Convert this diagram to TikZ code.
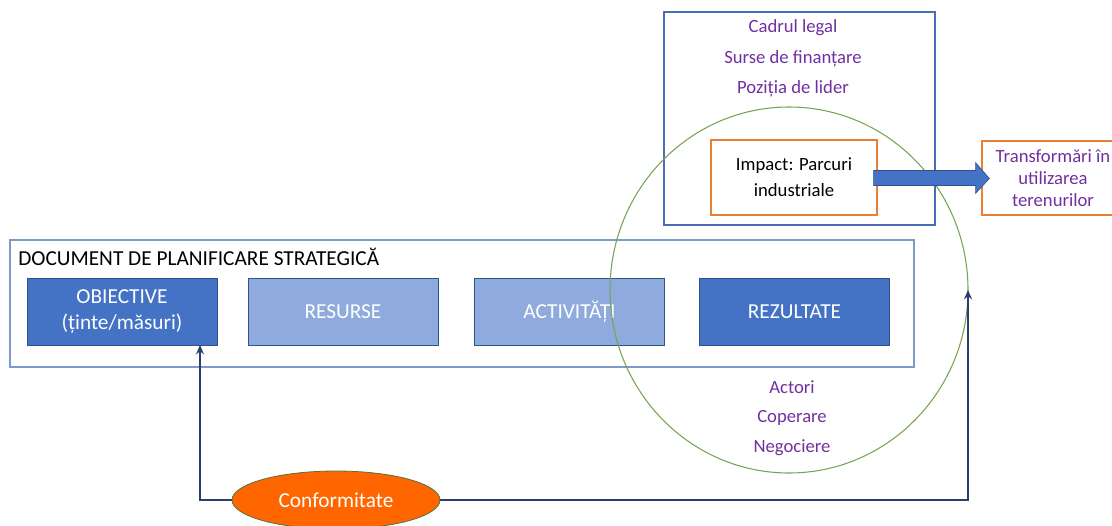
\documentclass[tikz,border=0pt]{standalone}
\usepackage{fontspec}
\setmainfont{Carlito}
\usetikzlibrary{shapes.geometric,arrows.meta,calc}
\definecolor{dblue}{HTML}{4472C4}
\definecolor{lblue}{HTML}{8FAADC}
\definecolor{bedge}{HTML}{2F528F}
\definecolor{docedge}{HTML}{7F9AC8}
\definecolor{topedge}{HTML}{4A6DB8}
\definecolor{purp}{HTML}{7030A0}
\definecolor{orng}{HTML}{ED7D31}
\definecolor{grn}{HTML}{76A552}
\definecolor{navy}{HTML}{2A3F6E}
\definecolor{confill}{HTML}{FF6600}
\begin{document}
\begin{tikzpicture}[x=0.75pt,y=-0.75pt,
  big/.style={font=\fontsize{16}{19.5}\selectfont},
  med/.style={font=\fontsize{14}{19.5}\selectfont},
  stepbox/.style={draw=bedge, line width=0.6pt, minimum width=142.5pt, minimum height=50.25pt, align=center, text=white, big, inner sep=0pt},
  darkbox/.style={stepbox, fill=dblue},
  lightbox/.style={stepbox, fill=lblue},
  purptext/.style={med, text=purp, inner sep=0pt},
  conn/.style={draw=navy, line width=1.5pt, -{Stealth[length=7pt,width=6pt]}}
]
\useasboundingbox (0,0) rectangle (1112,525);

% outer boxes
\node[draw=topedge, line width=0.8pt, minimum width=203.25pt, minimum height=159.75pt, inner sep=0pt] (top) at (799.5,118.5) {};
\node[draw=docedge, line width=0.8pt, minimum width=678pt, minimum height=95.25pt, inner sep=0pt] (doc) at (462,303.5) {};
\node[big, anchor=base west, inner sep=0pt] (title) at (18,265) {DOCUMENT DE PLANIFICARE STRATEGICĂ};

% step boxes
\node[darkbox] (obj) at (122,311.5) {OBIECTIVE\\(ținte/măsuri)};
\node[lightbox] (res) at (343,311.5) {RESURSE};
\node[lightbox] (act) at (569.5,311.5) {ACTIVITĂȚI};
\node[darkbox] (rez) at (794.5,311.5) {REZULTATE};

% top purple texts
\node[purptext] (t1) at (793,28) {Cadrul legal};
\node[purptext] (t2) at (793,59) {Surse de finanțare};
\node[purptext] (t3) at (793,89) {Poziția de lider};

% impact box
\node[draw=orng, line width=0.8pt, fill=white, minimum width=124.5pt, minimum height=56.25pt, align=center, med, inner sep=0pt] (imp) at (794,177.5) {Impact: Parcuri\\industriale};

% transformari box
\node[draw=orng, line width=0.8pt, minimum width=106.5pt, minimum height=55.5pt, align=center, med, text=purp, inner sep=0pt, font=\fontsize{14}{16.5}\selectfont] (tr) at (1053,178) {Transformări în\\utilizarea\\terenurilor};

% green circle
\node[draw=grn, line width=0.8pt, ellipse, minimum width=268.5pt, minimum height=274.5pt, inner sep=0pt] (circ) at (789,290) {};

% bottom purple texts
\node[purptext] (b1) at (792,387) {Actori};
\node[purptext] (b2) at (792,418) {Coperare};
\node[purptext] (b3) at (792,448) {Negociere};

% block arrow
\fill[dblue, draw=bedge, line width=0.4pt]
  ($(imp.east)+(-4,-7)$) -- ($(imp.east)+(98,-7)$) -- ($(imp.east)+(98,-15)$)
  -- ($(tr.west)+(8,0.5)$)
  -- ($(imp.east)+(98,16)$) -- ($(imp.east)+(98,8)$) -- ($(imp.east)+(-4,8)$) -- cycle;

% conformitate
\node[ellipse, draw=grn!70!black, line width=0.6pt, fill=confill, minimum width=156pt, minimum height=43.5pt, text=white, big, inner sep=0pt] (conf) at (336,500) {Conformitate};

\coordinate (a1) at (200,345);
\coordinate (a2) at (968,290);
\draw[conn] (conf.west) -| (a1);
\draw[conn] (conf.east) -| (a2);
\end{tikzpicture}
\end{document}
